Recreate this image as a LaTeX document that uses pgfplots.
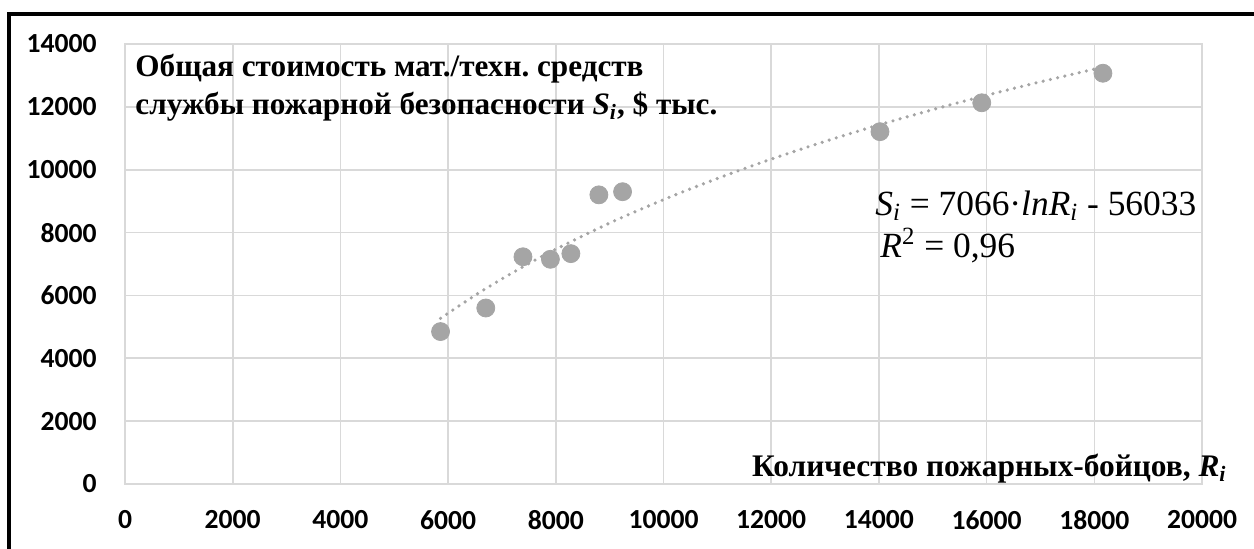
\documentclass[border=0pt]{standalone}
\usepackage{fontspec}
\setmainfont{Liberation Serif}
\newfontfamily\calibri{Carlito}
\usepackage{pgfplots}
\pgfplotsset{compat=1.18}
\definecolor{pt}{HTML}{A5A5A5}
\definecolor{gr}{HTML}{D9D9D9}
\frenchspacing
\begin{document}
\begin{tikzpicture}
\useasboundingbox (0,0) rectangle (627pt,274pt);
\draw[line width=1.6pt] (4.5pt,-2pt) -- (4.5pt,267pt) -- (630pt,267pt);
\begin{axis}[
  at={(62.5pt,32pt)}, anchor=south west,
  scale only axis, width=538.5pt, height=220pt,
  xmin=0, xmax=20000, ymin=0, ymax=14000,
  xtick={0,2000,...,20000}, ytick={0,2000,...,14000},
  scaled ticks=false,
  grid=major, major grid style={gr, line width=0.8pt},
  axis line style={gr, line width=0.8pt},
  major tick length=0pt,
  /pgf/number format/.cd, 1000 sep={}, assume math mode=true,
  /pgfplots/.cd,
  ticklabel style={font=\calibri\bfseries\fontsize{13.8}{15}\selectfont},
  yticklabel style={inner sep=0pt, anchor=east, xshift=-14pt},
  xticklabel style={inner sep=0pt, anchor=north, yshift=-13pt},
  clip=false,
]
\addplot[pt, line width=1.8pt, line cap=round, dash pattern=on 0pt off 3.7pt, smooth] coordinates {
(5860,5271) (6500,6003) (7000,6527) (7500,7015) (8000,7471) (9000,8303) (10000,9047) (11000,9721) (12000,10336) (13000,10901) (14000,11425) (15000,11912) (16000,12368) (17000,12797) (18160,13263)};
\addplot[only marks, mark=*, mark size=4.5pt, mark options={fill=pt, draw=pt}] coordinates {
(5860,4850) (6700,5600) (7390,7230) (7900,7150) (8280,7330) (8800,9200) (9240,9300) (14020,11210) (15910,12130) (18160,13070)};
\end{axis}
\node[anchor=base west, inner sep=0pt, font=\bfseries\fontsize{15.6}{18}\selectfont] at (67.5pt,235.7pt)
  {Общая стоимость мат./техн. средств};
\node[anchor=base west, inner sep=0pt, font=\bfseries\fontsize{15.6}{18}\selectfont] at (67.5pt,217pt)
  {службы пожарной безопасности \textit{S}\textsubscript{\textit{i}}, \$ тыс.};
\node[anchor=base west, inner sep=0pt, font=\fontsize{17.7}{20}\selectfont] at (437.5pt,166.5pt)
  {\textit{S}\textsubscript{\textit{i}} = 7066·\textit{lnR}\textsubscript{\textit{i}} - 56033};
\node[anchor=base west, inner sep=0pt, font=\fontsize{17.7}{20}\selectfont] at (440pt,145.5pt)
  {\textit{R}\textsuperscript{2} = 0,96};
\node[anchor=base east, inner sep=0pt, font=\bfseries\fontsize{15.7}{18}\selectfont] at (613.5pt,36pt)
  {Количество пожарных-бойцов, \textit{R}\textsubscript{\textit{i}}};
\end{tikzpicture}
\end{document}
